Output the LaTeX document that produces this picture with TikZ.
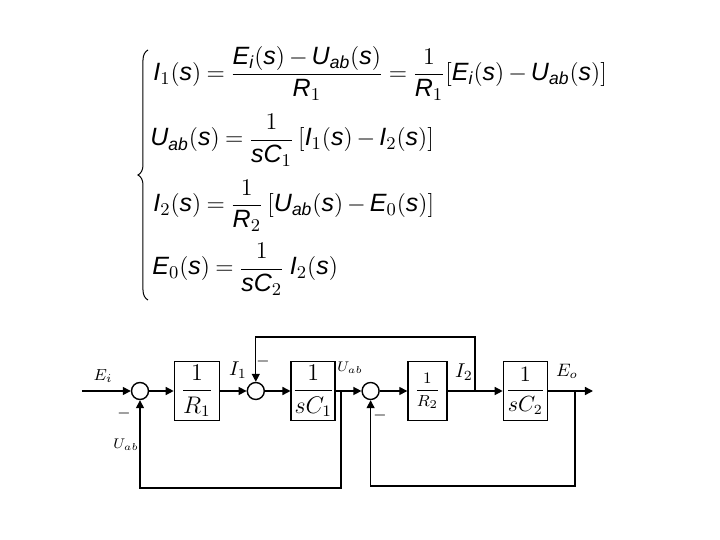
\documentclass[tikz,border=0pt]{standalone}
\usepackage{amsmath}
\usepackage{fontspec}
\setsansfont{Liberation Sans}
\usetikzlibrary{arrows.meta,positioning,decorations.pathreplacing}
\newcommand{\ev}[1]{\textsf{\itshape #1}}
\thickmuskip=4mu plus 2mu
\medmuskip=3mu plus 1mu

\begin{document}
\begin{tikzpicture}[
    x=0.5pt, y=-0.5pt,
    node distance=12.75pt,
    eq/.style={anchor=base west, inner sep=0pt, font=\fontsize{12.5}{15}\selectfont},
    blk/.style={rectangle, draw=black, line width=0.7pt, minimum width=22pt, minimum height=29.5pt, inner sep=0pt},
    sum/.style={circle, draw=black, line width=0.7pt, minimum size=8.5pt, inner sep=0pt},
    lbl/.style={inner sep=0pt},
    arrow/.style={-{Triangle[length=4pt,width=4pt]}, line width=0.7pt}
]
\useasboundingbox (0,0) rectangle (720,540);

% equations
\node[eq] (eq1) at (153,80.5) {$\ev{I}_{1}(\ev{s}) = \dfrac{\ev{E}_{\ev{i}}(\ev{s}) - \ev{U}_{\ev{ab}}(\ev{s})}{\ev{R}_{1}} = \dfrac{1}{\ev{R}_{1}}[\ev{E}_{\ev{i}}(\ev{s}) - \ev{U}_{\ev{ab}}(\ev{s})]$};
\node[eq] (eq2) at (150,146) {$\ev{U}_{\ev{ab}}(\ev{s}) = \dfrac{1}{\ev{sC}_{1}}\,[\ev{I}_{1}(\ev{s}) - \ev{I}_{2}(\ev{s})]$};
\node[eq] (eq3) at (153,211.5) {$\ev{I}_{2}(\ev{s}) = \dfrac{1}{\ev{R}_{2}}\,[\ev{U}_{\ev{ab}}(\ev{s}) - \ev{E}_{0}(\ev{s})]$};
\node[eq] (eq4) at (152,275) {$\ev{E}_{0}(\ev{s}) = \dfrac{1}{\ev{sC}_{2}}\;\ev{I}_{2}(\ev{s})$};
\draw[line width=0.5pt, decorate, decoration={brace, amplitude=5pt}] (148,300) -- (148,50);

% block diagram
\node[sum] (s1) at (140,391) {};
\node[blk, minimum width=22.5pt, right=12.25pt of s1] (b1) {\fontsize{12}{14}\selectfont$\dfrac{1}{R_1}$};
\node[sum, right=13.25pt of b1] (s2) {};
\node[blk, right=of s2] (b2) {\fontsize{12}{14}\selectfont$\dfrac{1}{sC_1}$};
\node[sum, right=of b2] (s3) {};
\node[blk, minimum width=19.5pt, right=13.75pt of s3] (b3) {\fontsize{8}{10}\selectfont$\dfrac{1}{R_2}$};
\node[blk, right=27.5pt of b3] (b4) {\fontsize{10.5}{12}\selectfont$\dfrac{1}{sC_2}$};

\coordinate (in) at (82,391);
\coordinate (out) at (593,391);
\coordinate (br1) at (341,391);
\coordinate (br2) at (475,391);
\coordinate (br3) at (575,391);

\draw[arrow] (in) -- (s1);
\draw[arrow] (s1) -- (b1);
\draw[arrow] (b1) -- (s2);
\draw[arrow] (s2) -- (b2);
\draw[arrow] (b2) -- (s3);
\draw[arrow] (s3) -- (b3);
\draw[arrow] (b3) -- (b4);
\draw[arrow] (b4) -- (out);
\draw[arrow] (br1) -- ++(0,97) -| (s1.south);
\draw[arrow] (br2) -- ++(0,-54) -| (s2.north);
\draw[arrow] (br3) -- ++(0,95) -| (s3.south);

% signal labels
\node[lbl, font=\fontsize{8.5}{9}\selectfont] (lEi) at (103,376) {$E_i$};
\node[lbl, font=\fontsize{8}{9}\selectfont] (m1) at (124,414) {$-$};
\node[lbl, font=\fontsize{7.5}{8}\selectfont] (lUab1) at (126,445) {$U_{ab}$};
\node[lbl, font=\fontsize{10}{12}\selectfont] (lI1) at (238,370) {$I_1$};
\node[lbl, font=\fontsize{8}{9}\selectfont] (m2) at (263,362) {$-$};
\node[lbl, font=\fontsize{7}{8}\selectfont] (lUab2) at (350,368) {$U_{ab}$};
\node[lbl, font=\fontsize{8}{9}\selectfont] (m3) at (380,416) {$-$};
\node[lbl, font=\fontsize{10}{12}\selectfont] (lI2) at (464,372) {$I_2$};
\node[lbl, font=\fontsize{9}{10}\selectfont] (lEo) at (567,371) {$E_o$};
\end{tikzpicture}
\end{document}
